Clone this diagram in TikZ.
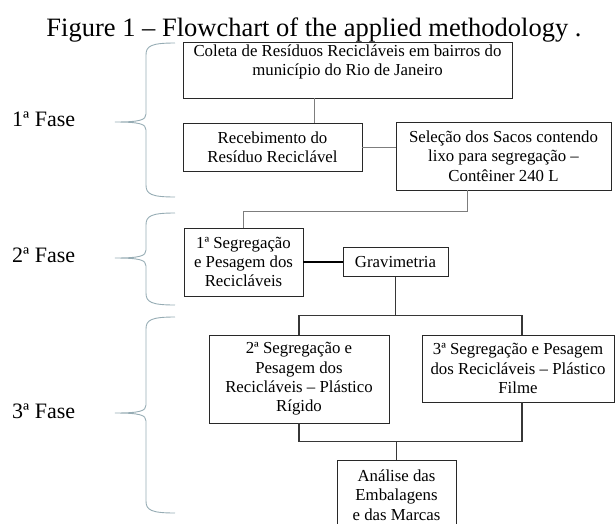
\documentclass[tikz,border=0pt]{standalone}
\usepackage{fontspec}
\setmainfont{Liberation Serif}
\usetikzlibrary{positioning}
\definecolor{boxcol}{RGB}{40,40,40}
\definecolor{linkcol}{RGB}{125,125,125}
\definecolor{darklinkcol}{RGB}{55,55,55}
\definecolor{bracecol}{RGB}{150,172,180}

\begin{document}
\begin{tikzpicture}[x=1pt,y=-1pt,
  box/.style={draw=boxcol,line width=0.8pt,align=center,inner sep=2pt,font=\fontsize{16.8}{19.3}\selectfont},
  link/.style={draw=linkcol,line width=1pt},
  darklink/.style={draw=darklinkcol,line width=1.1pt},
  phase/.style={anchor=base west,inner sep=0pt,font=\fontsize{22}{26}\selectfont},
  fasebrace/.style={draw=bracecol,line width=0.9pt}]
  \useasboundingbox (0,0) rectangle (616,523);
  \node[anchor=base,inner sep=0pt,font=\fontsize{26.5}{30}\selectfont] at (314,36) (title) {Figure 1 – Flowchart of the applied methodology .};
  \node[box,minimum width=329pt,minimum height=56pt] at (347.5,70) (coleta) {Coleta de Resíduos Recicláveis em bairros do\\município do Rio de Janeiro\\\mbox{}};
  \node[box,minimum width=179pt,minimum height=48pt] at (272.5,147) (receb) {Recebimento do\\Resíduo Reciclável};
  \node[box,minimum width=215pt,minimum height=68pt] at (503.5,156) (selecao) {Seleção dos Sacos contendo\\lixo para segregação –\\Contêiner 240 L};
  \node[box,minimum width=119pt,minimum height=68pt] at (243.5,262) (seg1) {1ª Segregação\\e Pesagem dos\\Recicláveis};
  \node[box,minimum width=105pt,minimum height=29pt] at (395.5,262) (grav) {Gravimetria};
  \node[box,minimum width=180pt,minimum height=88pt] at (299,379) (seg2) {2ª Segregação e\\Pesagem dos\\Recicláveis – Plástico\\Rígido};
  \node[box,minimum width=192pt,minimum height=67pt] at (518,368.5) (seg3) {3ª Segregação e Pesagem\\dos Recicláveis – Plástico\\Filme};
  \node[box,minimum width=119pt,minimum height=70pt] at (396.5,495) (analise) {Análise das\\Embalagens\\e das Marcas};
  % connectors
  \draw[link] ([xshift=41.5pt]receb.north) -- ([xshift=41.5pt]receb.north |- coleta.south);
  \draw[link] (receb.east) -- (receb.east -| selecao.west);
  \draw[link] ([xshift=-36pt]selecao.south) -- ++(0,21) -| (seg1.north);
  \draw[draw=black,line width=1.6pt] (seg1.east) -- (grav.west);
  \draw[darklink] (grav.south) -- ++(0,39) coordinate (split);
  \draw[darklink] (seg2.north) |- (split) -| ([xshift=4pt]seg3.north);
  \draw[darklink] (analise.north) -- ++(0,-18) coordinate (merge);
  \draw[darklink] (seg2.south) |- (merge) -| ([xshift=4pt]seg3.south);
  % phases
  \node[phase] at (12,126) (fase1) {1ª Fase};
  \node[phase] at (12,262) (fase2) {2ª Fase};
  \node[phase] at (12,418) (fase3) {3ª Fase};
  \draw[fasebrace] (175,43) .. controls (151,43) and (146,46) .. (146,55) -- (146,114) .. controls (146,120) and (140,122) .. (115,122) .. controls (140,122) and (146,124) .. (146,130) -- (146,185) .. controls (146,194) and (151,197) .. (175,197);
  \draw[fasebrace] (175,213) .. controls (151,213) and (146,216) .. (146,225) -- (146,250) .. controls (146,256) and (140,258) .. (115,258) .. controls (140,258) and (146,260) .. (146,266) -- (146,293) .. controls (146,302) and (151,305) .. (175,305);
  \draw[fasebrace] (175,317) .. controls (151,317) and (146,320) .. (146,329) -- (146,405) .. controls (146,411) and (140,413) .. (115,413) .. controls (140,413) and (146,415) .. (146,421) -- (146,501) .. controls (146,510) and (151,513) .. (175,513);
\end{tikzpicture}
\end{document}
